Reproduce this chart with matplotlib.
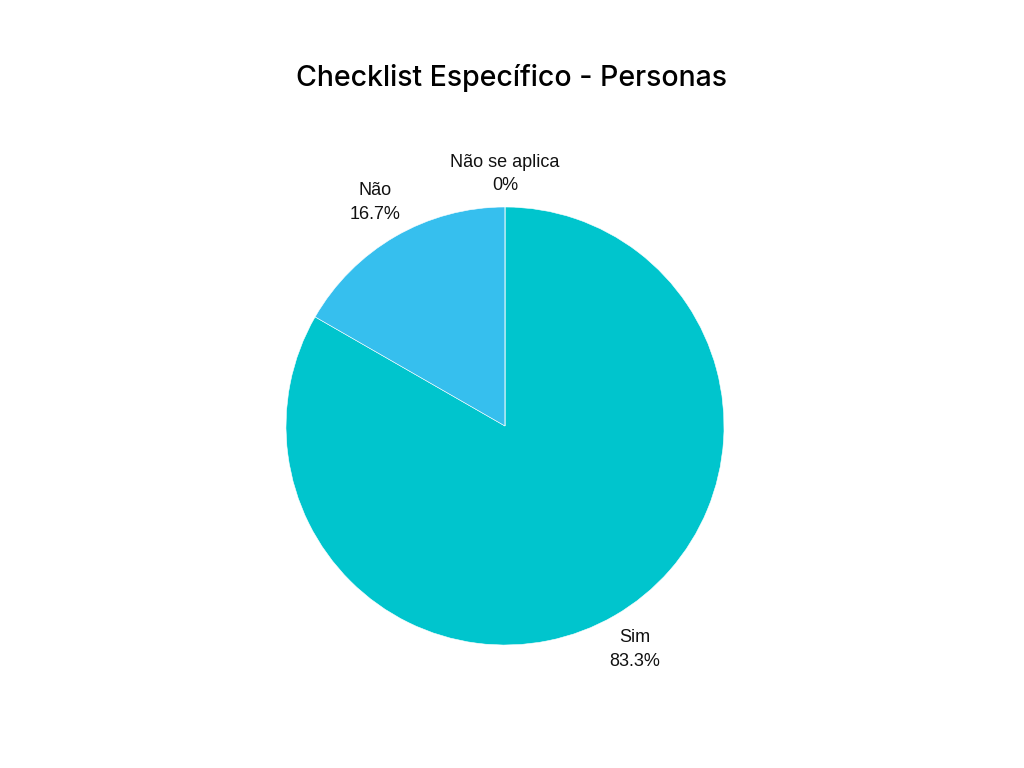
import matplotlib
matplotlib.use("Agg")
import matplotlib.pyplot as plt
import numpy as np

# data
labels = ["Sim", "Não", "Não se aplica"]
values = [83.3, 16.7, 0.0]
colors = ["#00C5CD", "#36BFEE", "#1E88E5"]

fig = plt.figure(figsize=(10.24, 7.68), dpi=100)
fig.patch.set_facecolor("white")

# pie axes placed in pixels: center (505, 426), radius 219
cx, cy, r = 505, 426, 219
ax = fig.add_axes([(cx - r) / 1024, (768 - cy - r) / 768, 2 * r / 1024, 2 * r / 768])

wedges, _ = ax.pie(values, colors=colors, startangle=90, counterclock=False,
                   radius=1.0, wedgeprops=dict(edgecolor="white", linewidth=0.4))
ax.set_xlim(-1, 1)
ax.set_ylim(-1, 1)
ax.set_aspect("equal")
ax.axis("off")

# labels outside the slices
total = sum(values)
start = 90.0
dists = [1.18, 1.18, 1.15]
for lab, v, d in zip(labels, values, dists):
    ang = start - 360.0 * v / total / 2
    start -= 360.0 * v / total
    x = d * np.cos(np.radians(ang))
    y = d * np.sin(np.radians(ang))
    pct = "0%" if v == 0 else f"{v:.1f}%"
    ax.text(x, y, f"{lab}\n{pct}", ha="center", va="center", fontsize=13,
            family="Liberation Sans", color="#111111", linespacing=1.5,
            clip_on=False)

fig.text(0.5, 1 - 78 / 768, "Checklist Específico - Personas", ha="center",
         va="center", fontsize=20.5, family="Inter", weight="medium", color="black")

fig.savefig("out.png", dpi=100)
